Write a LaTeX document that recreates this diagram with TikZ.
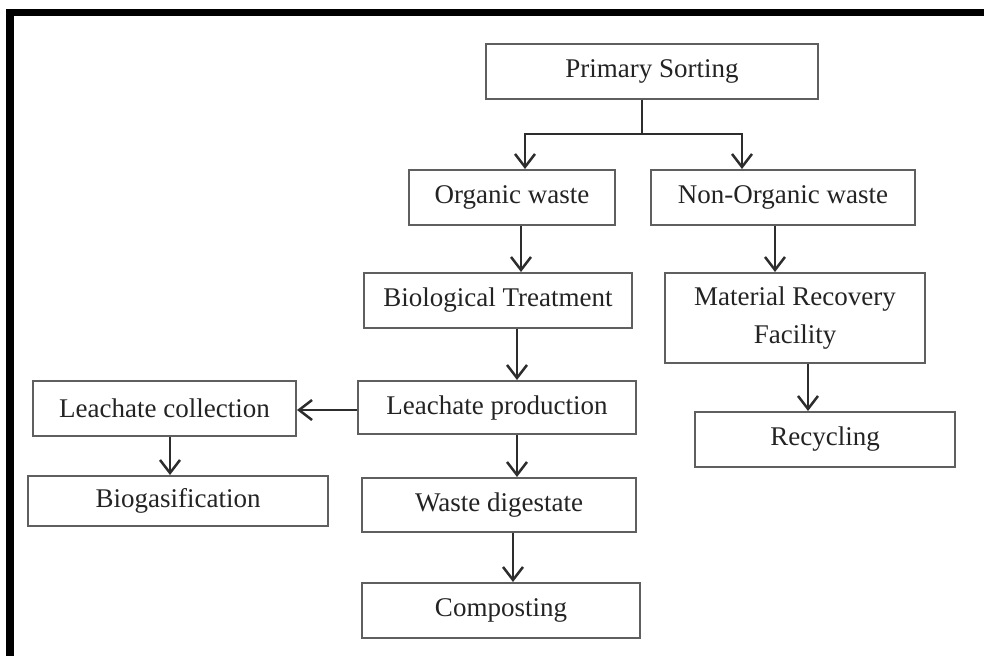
\documentclass[tikz,border=0pt]{standalone}
\usepackage{fontspec}
\setmainfont{Liberation Serif}
\usetikzlibrary{arrows.meta}
\definecolor{boxgray}{RGB}{95,95,95}
\definecolor{linegray}{RGB}{45,45,45}
\definecolor{textgray}{RGB}{35,35,35}
\tikzset{
	box/.style={draw=boxgray, line width=2pt, inner sep=0pt, minimum height=55pt, text=textgray, align=center, font=\fontsize{27}{38}\selectfont},
	arr/.style={draw=linegray, line width=2.5pt, -{Straight Barb[length=13pt,width=20pt,line width=2.5pt]}},
}
\begin{document}
\begin{tikzpicture}[x=1pt,y=-1pt]
		\useasboundingbox (0,0) rectangle (984,656);
		%frame
		\draw[line width=7.5pt] (10,656) -- (10,12.7) -- (984,12.7);
		
		%boxes
		\node[box, minimum width=332pt] (prim) at (652,71) {Primary Sorting};
		\node[box, minimum width=206pt] (org) at (512,197.5) {Organic waste};
		\node[box, minimum width=264pt] (nonorg) at (783,197.5) {Non-Organic waste};
		\node[box, minimum width=268pt] (bio) at (498,300.5) {Biological Treatment};
		\node[box, minimum width=260pt, minimum height=90pt] (mrf) at (795,318) {Material Recovery\\Facility};
		\node[box, minimum width=263pt] (lcol) at (164.5,408.5) {Leachate collection};
		\node[box, minimum width=278pt, minimum height=53pt] (lprod) at (497,407.5) {Leachate production};
		\node[box, minimum width=260pt] (rec) at (825,439.5) {Recycling};
		\node[box, minimum width=300pt, minimum height=50pt] (biog) at (178,501) {Biogasification};
		\node[box, minimum width=274pt, minimum height=54pt] (wdig) at (499,505) {Waste digestate};
		\node[box, minimum width=278pt] (comp) at (501,610.5) {Composting};
		
		%split below primary sorting
		\coordinate (fork) at (642,134);
		\draw[draw=linegray, line width=2.5pt] ([xshift=-10pt]prim.south) -- (fork);
		\draw[arr] (fork) -| ([xshift=13pt]org.north);
		\draw[arr] (fork) -| ([xshift=-41pt]nonorg.north);
		
		%vertical flow
		\draw[arr] ([xshift=9pt]org.south) -- ([xshift=9pt]org.south |- bio.north);
		\draw[arr] ([xshift=-8pt]nonorg.south) -- ([xshift=-8pt]nonorg.south |- mrf.north);
		\draw[arr] ([xshift=19pt]bio.south) -- ([xshift=19pt]bio.south |- lprod.north);
		\draw[arr] ([xshift=20pt]lprod.south) -- ([xshift=20pt]lprod.south |- wdig.north);
		\draw[arr] ([xshift=14pt]wdig.south) -- ([xshift=14pt]wdig.south |- comp.north);
		\draw[arr] ([xshift=13pt]mrf.south) -- ([xshift=13pt]mrf.south |- rec.north);
		\draw[arr] ([xshift=5.5pt]lcol.south) -- ([xshift=5.5pt]lcol.south |- biog.north);
		
		%sideways to collection
		\draw[arr] ([yshift=-2.5pt]lprod.west) -- ([yshift=-2.5pt]lprod.west -| lcol.east);
\end{tikzpicture}
\end{document}
